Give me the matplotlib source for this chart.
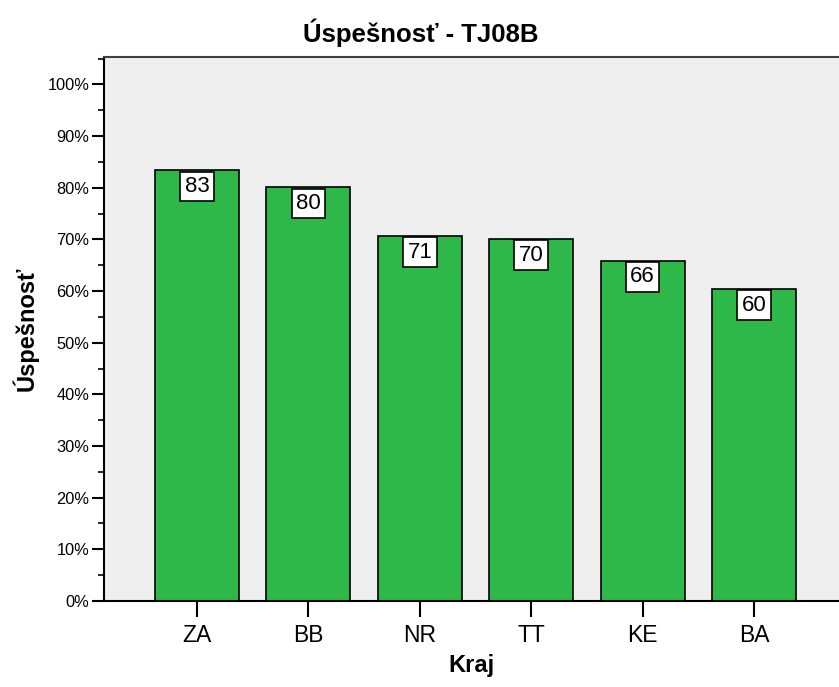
import matplotlib.pyplot as plt
from matplotlib.ticker import MultipleLocator, PercentFormatter

plt.rcParams['font.family'] = ['Liberation Sans', 'DejaVu Sans']

kraje = ['ZA', 'BB', 'NR', 'TT', 'KE', 'BA']
uspesnost = [83.4, 80.1, 70.7, 70.1, 65.9, 60.4]
popisky = ['83', '80', '71', '70', '66', '60']

fig = plt.figure(figsize=(8.39, 6.87), dpi=100)
ax = fig.add_axes([0.124, 0.1252, 0.876, 0.7918])
ax.set_facecolor('#efefef')

x = list(range(len(kraje)))
ax.bar(x, uspesnost, width=0.754, color='#2fb84a', edgecolor='black', linewidth=1.2, zorder=2)

# popisky hodnot v bielych rameckoch pod vrcholom stlpca
for xi, v, t in zip(x, uspesnost, popisky):
    ax.annotate(t, (xi, v), xytext=(0, -4.2), textcoords='offset points',
                ha='center', va='top', fontsize=16,
                bbox=dict(boxstyle='square,pad=0.2', fc='white', ec='black', lw=1.2),
                zorder=3)

ax.set_xlim(-0.835, 5.763)
ax.set_ylim(0, 105.3)
ax.set_xticks(x)
ax.set_xticklabels(kraje, fontsize=16.5)
ax.yaxis.set_major_locator(MultipleLocator(10))
ax.yaxis.set_minor_locator(MultipleLocator(5))
ax.yaxis.set_major_formatter(PercentFormatter(decimals=0))
ax.tick_params(axis='y', which='major', length=8.6, width=1.5, labelsize=11.8, pad=2)
ax.tick_params(axis='y', which='minor', length=4.3, width=1.2)
ax.tick_params(axis='x', length=11.5, width=1.5, pad=5)

ax.spines['right'].set_visible(False)
ax.spines['top'].set_color('#404040')
ax.spines['top'].set_linewidth(1.5)
ax.spines['left'].set_linewidth(1.5)
ax.spines['bottom'].set_linewidth(1.5)

ax.set_xlabel('Kraj', fontsize=17, fontweight='bold', labelpad=5)
ax.set_ylabel('Úspešnosť', fontsize=17, fontweight='bold', labelpad=6)
fig.text(0.502, 0.952, 'Úspešnosť - TJ08B', ha='center', va='center',
         fontsize=18.5, fontweight='bold')

fig.savefig('out.png', dpi=100)
